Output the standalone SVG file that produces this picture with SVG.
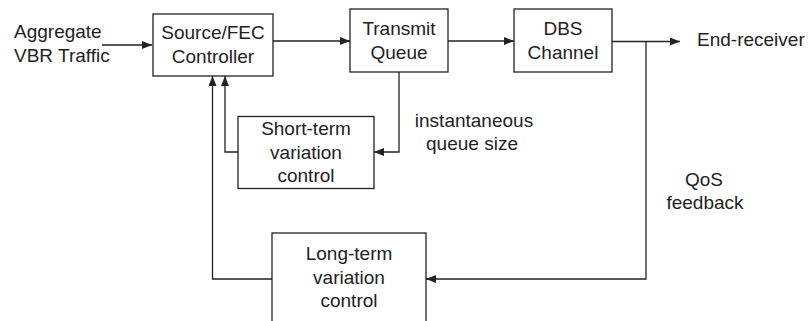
<svg xmlns="http://www.w3.org/2000/svg" width="809" height="321" viewBox="0 0 809 321">
<style>
.box{fill:#fff;stroke:#222;stroke-width:1.3}
.ln{fill:none;stroke:#222;stroke-width:1.3}
text{font-family:"Liberation Sans",Arial,sans-serif;font-size:19px;fill:#222}
.c{text-anchor:middle}
</style>
<defs>
<marker id="ah" viewBox="0 0 10 8" refX="10" refY="4" markerWidth="10" markerHeight="8" markerUnits="userSpaceOnUse" orient="auto">
<path d="M0,0 L10,4 L0,8 Z" fill="#222"/>
</marker>
</defs>
<rect width="809" height="321" fill="#fff"/>
<g id="connectors">
<line class="ln" x1="102" y1="45" x2="152" y2="45" marker-end="url(#ah)"/>
<line class="ln" x1="273" y1="41" x2="350" y2="41" marker-end="url(#ah)"/>
<line class="ln" x1="448" y1="41" x2="514" y2="41" marker-end="url(#ah)"/>
<line class="ln" x1="612" y1="41.5" x2="680" y2="41.5" marker-end="url(#ah)"/>
<polyline class="ln" points="399,72 399,152 374,152" marker-end="url(#ah)"/>
<polyline class="ln" points="238,152 225,152 225,76" marker-end="url(#ah)"/>
<polyline class="ln" points="646,41.5 646,279 426,279" marker-end="url(#ah)"/>
<polyline class="ln" points="272,279 212.5,279 212.5,76" marker-end="url(#ah)"/>
</g>
<g id="input-label">
<text x="14" y="38">Aggregate</text>
<text x="14" y="62">VBR Traffic</text>
</g>
<g id="source-fec">
<rect class="box" x="153" y="14" width="120" height="62"/>
<text class="c" x="213" y="39">Source/FEC</text>
<text class="c" x="213" y="63">Controller</text>
</g>
<g id="transmit-queue">
<rect class="box" x="350" y="9" width="98" height="63"/>
<text class="c" x="399" y="35">Transmit</text>
<text class="c" x="399" y="59">Queue</text>
</g>
<g id="dbs-channel">
<rect class="box" x="514" y="9" width="98" height="63"/>
<text class="c" x="563" y="35">DBS</text>
<text class="c" x="563" y="59">Channel</text>
</g>
<g id="end-receiver">
<text x="697" y="46">End-receiver</text>
</g>
<g id="short-term">
<rect class="box" x="238" y="116.5" width="136" height="72"/>
<text class="c" x="306" y="135">Short-term</text>
<text class="c" x="306" y="158.5">variation</text>
<text class="c" x="306" y="182">control</text>
</g>
<g id="queue-label">
<text class="c" x="474" y="127">instantaneous</text>
<text class="c" x="472" y="150">queue size</text>
</g>
<g id="qos-label">
<text class="c" x="704" y="186">QoS</text>
<text class="c" x="705" y="208.5">feedback</text>
</g>
<g id="long-term">
<rect class="box" x="272" y="233" width="154" height="94"/>
<text class="c" x="349" y="260">Long-term</text>
<text class="c" x="349" y="284">variation</text>
<text class="c" x="349" y="307">control</text>
</g>
</svg>
